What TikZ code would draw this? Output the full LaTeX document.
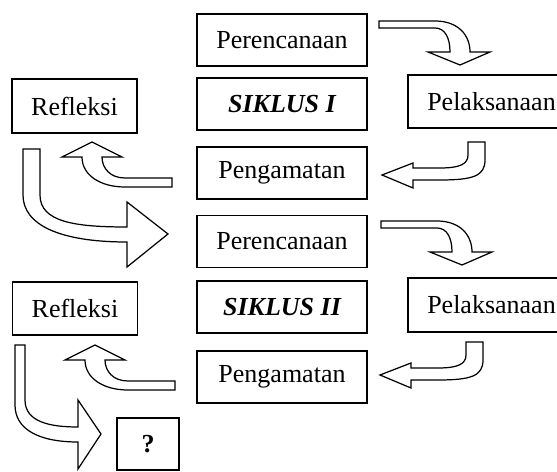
\documentclass[tikz,border=0pt]{standalone}
\usepackage{fontspec}
\setmainfont{Liberation Serif}
\usetikzlibrary{positioning}

\tikzset{
  stage/.style={draw, line width=0.9pt, inner sep=0pt,
    minimum width=3.4cm, minimum height=1.04cm,
    font=\fontsize{14.8}{17}\selectfont},
  blockarrow/.style={draw, fill=white, line width=0.7pt},
  % bent arrows, drawn from the tail end
  bendright/.pic={
    \path[blockarrow] (0,0) -- (56,0) .. controls (79,0) and (91,14) .. (91,31)
      -- (111,31) -- (81,44) -- (49,31) -- (71,31)
      .. controls (71,17) and (66,7) .. (56,7) -- (0,7) -- cycle;
  },
  bendleft/.pic={
    \path[blockarrow] (0,0) -- (17,0) -- (17,18) .. controls (17,34) and (5,38) .. (-28,38)
      -- (-55,38) -- (-55,46) -- (-86,33) -- (-55,21) -- (-55,26) -- (-28,26)
      .. controls (-8,26) and (0,22) .. (0,13) -- cycle;
  },
  bendup/.pic={
    \path[blockarrow] (0,0) -- (-47,0) .. controls (-62,0) and (-70,-10) .. (-70,-21)
      -- (-50,-21) -- (-80,-36) -- (-110,-21) -- (-90,-21)
      .. controls (-90,-3) and (-72,9) .. (-47,9) -- (0,9) -- cycle;
  },
}

\begin{document}
\begin{tikzpicture}[x=0.02cm,y=-0.02cm]
  \useasboundingbox (0,0) rectangle (557,472);

  % middle column
  \node[stage] (per1) at (282,40) {Perencanaan};
  \node[stage] (sik1) at (282,104) {\bfseries\itshape SIKLUS I};
  \node[stage] (pen1) at (282,173) {Pengamatan};
  \node[stage] (per2) at (282,241.5) {Perencanaan};
  \node[stage] (sik2) at (282,307) {\bfseries\itshape SIKLUS II};
  \node[stage] (pen2) at (282,377) {Pengamatan};

  % sides
  \node[stage, minimum width=2.5cm, minimum height=1.08cm] (ref1) at (74.5,106) {Refleksi};
  \node[stage, minimum width=2.5cm, minimum height=1.06cm] (ref2) at (75,308.5) {Refleksi};
  \node[stage, minimum width=3.34cm, minimum height=1.06cm] (pel1) at (491.5,101.5) {Pelaksanaan};
  \node[stage, minimum width=3.34cm, minimum height=1.08cm] (pel2) at (491.5,305) {Pelaksanaan};
  \node[stage, minimum width=1.24cm, minimum height=1.04cm] (next) at (148,444) {\bfseries ?};

  % siklus I
  \pic at (379,21) {bendright};
  \pic at (468,142) {bendleft};
  \pic at (172,178) {bendup};
  \path[blockarrow] (23,149) -- (40,149) -- (40,195)
    .. controls (40,222) and (75,227) .. (127,227) -- (127,202) -- (168,234)
    -- (127,267) -- (127,242) .. controls (60,242) and (23,225) .. (23,195) -- cycle;

  % siklus II
  \pic at (381,221) {bendright};
  \pic at (466,342) {bendleft};
  \pic at (175,381) {bendup};
  \path[blockarrow] (15,345) -- (25,345) -- (25,400)
    .. controls (25,422) and (50,427) .. (78,427) -- (78,400) -- (101,434)
    -- (78,469) -- (78,442) .. controls (40,442) and (15,430) .. (15,405) -- cycle;
\end{tikzpicture}
\end{document}
